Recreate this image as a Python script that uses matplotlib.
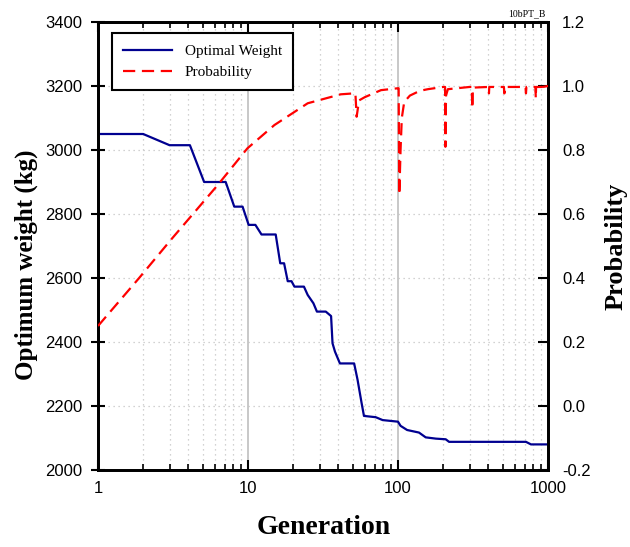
import numpy as np
import matplotlib
matplotlib.use("Agg")
import matplotlib.pyplot as plt
from matplotlib.ticker import FixedLocator, FixedFormatter, LogLocator, NullFormatter

# --------------------------------------------------------------------------
# Data
# --------------------------------------------------------------------------

# optimal weight (left axis, kg) vs generation
w_gen = [1, 2, 3, 4.1, 5.1, 7.1, 8.1, 9.2, 10.1, 11.2, 12.3, 15.3, 16.4, 17.4,
         18.4, 19.5, 20.4, 23.6, 25, 27.3, 28.8, 33, 35.8, 36.6, 38, 41, 51,
         53.7, 57, 59.3, 71, 79, 100, 104, 115, 138, 153, 179, 208, 219,
         713, 770, 1000]
w_kg = [3050, 3050, 3015, 3015, 2900, 2900, 2823, 2823, 2766, 2766, 2736, 2736,
        2646, 2646, 2590, 2590, 2573, 2573, 2547, 2521, 2495, 2495, 2481, 2396,
        2370, 2333, 2333, 2283, 2213, 2169, 2165, 2156, 2151, 2138, 2125, 2117,
        2102, 2098, 2096, 2088, 2088, 2080, 2080]

# probability (right axis) vs generation
p_gen = [1, 1.88, 3.07, 6.27, 9.9, 15, 25, 41.5, 51, 52, 53, 55, 60, 77,
         100, 101, 102, 104, 106, 110, 120, 140, 158, 200, 206, 207, 209,
         215, 300, 310, 313, 316, 400, 404, 406, 508, 512, 516, 708, 713,
         718, 825, 829, 833, 915, 920, 925, 1000]
p_val = [0.25, 0.40, 0.52, 0.69, 0.805, 0.878, 0.946, 0.974, 0.977, 0.977,
         0.904, 0.955, 0.965, 0.987, 0.993, 0.993, 0.66, 0.80, 0.90, 0.95,
         0.97, 0.985, 0.99, 0.997, 0.997, 0.81, 0.97, 0.99, 0.997, 0.997,
         0.93, 0.995, 0.997, 0.977, 0.997, 0.997, 0.977, 0.997, 0.997, 0.977,
         0.997, 0.997, 0.962, 0.997, 0.997, 0.985, 0.997, 1.0]

x_major = [1, 10, 100, 1000]
x_labels = ["1", "10", "100", "1000"]
left_ticks = [2000, 2200, 2400, 2600, 2800, 3000, 3200, 3400]
right_ticks = [-0.2, 0.0, 0.2, 0.4, 0.6, 0.8, 1.0, 1.2]

SANS = "Liberation Sans"
SERIF = "Liberation Serif"
BLUE = "#000090"
RED = "#ff0000"
GRID = "#c4c4c4"

# --------------------------------------------------------------------------
# Figure
# --------------------------------------------------------------------------

W, H = 630, 547
fig = plt.figure(figsize=(W / 100, H / 100), dpi=100)
ax = fig.add_axes([98 / W, 1 - 470 / H, 450 / W, 448 / H])
ax2 = ax.twinx()

ax.plot(w_gen, w_kg, color=BLUE, linewidth=1.6, label="Optimal Weight", zorder=3)
ax2.plot(p_gen, p_val, color=RED, linewidth=1.6, dashes=(5.5, 3),
         label="Probability", zorder=3)

ax.set_xscale("log")
ax.set_xlim(1, 1000)
ax.set_ylim(2000, 3400)
ax2.set_ylim(-0.2, 1.2)

ax.xaxis.set_major_locator(FixedLocator(x_major))
ax.xaxis.set_major_formatter(FixedFormatter(x_labels))
ax.xaxis.set_minor_locator(LogLocator(base=10, subs=np.arange(2, 10)))
ax.xaxis.set_minor_formatter(NullFormatter())
ax.set_yticks(left_ticks)
ax2.set_yticks(right_ticks)
ax2.set_yticklabels([f"{v:.1f}" for v in right_ticks])

# grid: solid at decades, dotted elsewhere
ax.grid(which="major", axis="x", color=GRID, linewidth=1.3, linestyle="-")
ax.grid(which="minor", axis="x", color=GRID, linewidth=0.9, linestyle=(0, (1, 3)))
ax.grid(which="major", axis="y", color=GRID, linewidth=0.9, linestyle=(0, (1, 3)))
ax.set_axisbelow(True)

ax.tick_params(axis="x", which="major", direction="in", length=7, width=1.5,
               top=True, pad=8, labelsize=12)
ax.tick_params(axis="x", which="minor", direction="in", length=4, width=1.2, top=True)
ax.tick_params(axis="y", which="major", direction="inout", length=10, width=1.5,
               pad=6, labelsize=12)
ax2.tick_params(axis="y", which="major", direction="in", length=7, width=1.5,
                pad=10, labelsize=12)

for a in (ax, ax2):
    for lab in a.get_xticklabels() + a.get_yticklabels():
        lab.set_fontfamily(SANS)
    for sp in a.spines.values():
        sp.set_linewidth(2)
        sp.set_color("black")

# axis titles
fig.text(26 / W, 1 - 265 / H, "Optimum weight (kg)", rotation=90, ha="center",
         va="center", fontsize=18, fontweight="bold", family=SERIF)
fig.text(616 / W, 1 - 246 / H, "Probability", rotation=90, ha="center",
         va="center", fontsize=19, fontweight="bold", family=SERIF)
fig.text(324 / W, 1 - 527 / H, "Generation", ha="center", va="center",
         fontsize=20, fontweight="bold", family=SERIF)
fig.text(546 / W, 1 - 14 / H, "10bPT_B", ha="right", va="center",
         fontsize=7, family=SERIF)

# legend
h1, l1 = ax.get_legend_handles_labels()
h2, l2 = ax2.get_legend_handles_labels()
leg = ax2.legend(h1 + h2, l1 + l2, loc="upper left", bbox_to_anchor=(0.031, 0.975),
                 borderaxespad=0, fancybox=False, framealpha=1, edgecolor="black",
                 handlelength=3.2, labelspacing=0.45, borderpad=0.75,
                 prop={"family": SERIF, "size": 11})
leg.get_frame().set_linewidth(1.5)

fig.savefig("out.png", dpi=100)
